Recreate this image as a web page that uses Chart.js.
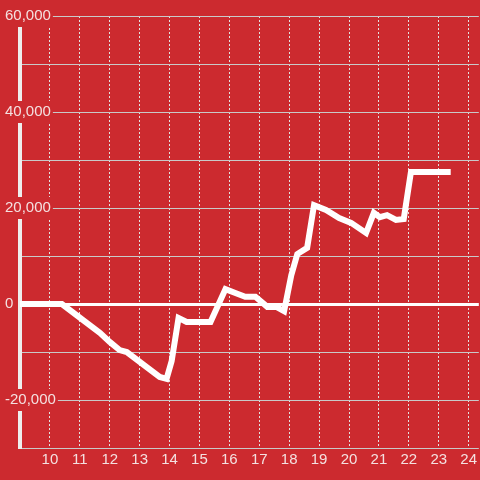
<!DOCTYPE html>
<html>
<head>
<meta charset="utf-8">
<script src="https://cdn.jsdelivr.net/npm/chart.js@4"></script>
<style>
  html, body { margin: 0; padding: 0; background: #cc2a2f; }
  canvas { display: block; background: #cc2a2f; }
</style>
</head>
<body>
<canvas id="myChart" width="480" height="480"></canvas>
<script>
var hours = [9, 10.4, 11.67, 12.0, 12.33, 12.57, 13.67, 13.9, 14.07, 14.3, 14.57, 15.37,
    15.87, 16.2, 16.53, 16.87, 17.27, 17.57, 17.83, 18.07, 18.27, 18.6, 18.83, 19.23,
    19.67, 20.07, 20.57, 20.83, 21.03, 21.27, 21.57, 21.83, 22.07, 23.4];
var balance = [0, 0, -6000, -7900, -9600, -10000, -15200, -15600, -11900, -2900, -3750, -3750,
    3100, 2300, 1500, 1500, -600, -600, -1500, 6000, 10400, 11700, 20600, 19600,
    17900, 16900, 14800, 19000, 18100, 18500, 17500, 17700, 27500, 27500];
var xTicks = [10, 11, 12, 13, 14, 15, 16, 17, 18, 19, 20, 21, 22, 23, 24];
var yTicks = [-30000, -20000, -10000, 0, 10000, 20000, 30000, 40000, 50000, 60000];

var red = '#cc2a2f';
var labelColor = '#f4e0e0';

var ctx = document.getElementById('myChart').getContext('2d');
var myChart = new Chart(ctx, {
    type: 'line',
    data: {
        datasets: [{
            data: hours.map(function (h, i) { return {x: h, y: balance[i]}; }),
            borderColor: '#ffffff',
            borderWidth: 6,
            pointRadius: 0,
            tension: 0,
            fill: false
        }]
    },
    options: {
        responsive: false,
        animation: false,
        layout: {
            padding: {left: 20, right: 0, top: 16, bottom: 8}
        },
        plugins: {
            legend: {display: false},
            tooltip: {enabled: false}
        },
        scales: {
            x: {
                type: 'linear',
                min: 9,
                max: 24.34,
                afterBuildTicks: function (scale) {
                    scale.ticks = xTicks.map(function (v) { return {value: v}; });
                },
                grid: {
                    color: '#e2e2e2',
                    lineWidth: 1,
                    drawTicks: false
                },
                border: {display: false, dash: [2, 2]},
                ticks: {
                    color: labelColor,
                    font: {family: 'Liberation Sans', size: 15},
                    padding: 3,
                    maxRotation: 0,
                    autoSkip: false
                }
            },
            y: {
                min: -30000,
                max: 60000,
                afterBuildTicks: function (scale) {
                    scale.ticks = yTicks.map(function (v) { return {value: v}; });
                },
                afterFit: function (scale) {
                    // labels sit over the plot, so the axis takes no room
                    scale.width = 0;
                },
                grid: {
                    color: function (c) { return c.tick && c.tick.value === 0 ? '#ffffff' : '#c9c9c9'; },
                    lineWidth: function (c) { return c.tick && c.tick.value === 0 ? 3 : 1; },
                    drawTicks: false
                },
                border: {display: true, color: '#eeeeee', width: 4},
                ticks: {
                    mirror: true,
                    padding: -15,
                    z: 1,
                    color: labelColor,
                    font: {family: 'Liberation Sans', size: 15},
                    showLabelBackdrop: true,
                    backdropColor: red,
                    backdropPadding: 2,
                    callback: function (v) {
                        return v % 20000 === 0 ? v.toLocaleString('en-US') : '';
                    }
                }
            }
        }
    }
});
</script>
</body>
</html>
